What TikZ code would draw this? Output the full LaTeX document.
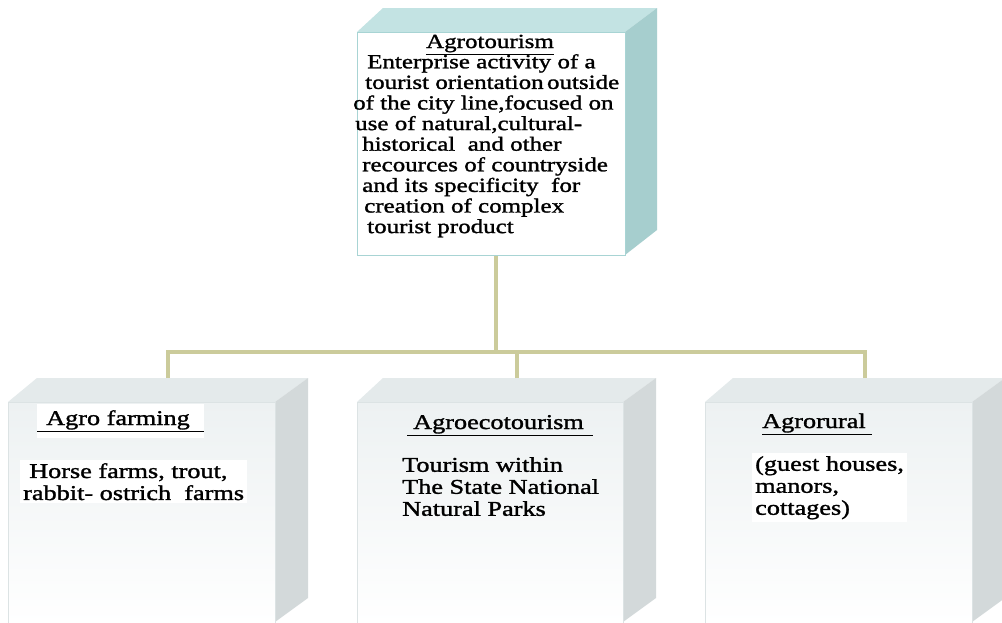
\documentclass[tikz,border=0pt]{standalone}
\usepackage{fontspec}
\setmainfont{Liberation Serif}[FakeStretch=1.25,FakeBold=1.4]
\definecolor{tealTop}{HTML}{C3E3E3}
\definecolor{tealSide}{HTML}{A6CECE}
\definecolor{tealEdge}{HTML}{A8D4D4}
\definecolor{grayTop}{HTML}{E4EAEB}
\definecolor{graySide}{HTML}{D3D9DA}
\definecolor{grayEdge}{HTML}{DCE3E4}
\definecolor{faceTop}{HTML}{EDF1F2}
\definecolor{lineC}{HTML}{CBCB9B}
\begin{document}
\begin{tikzpicture}[x=1pt,y=-1pt,
  conn/.style={draw=lineC, line width=3.6pt},
  topfront/.style={draw=tealEdge, fill=white, line width=0.8pt, anchor=north west,
    minimum width=268pt, minimum height=223pt, inner sep=0pt},
  lowfront/.style={draw=grayEdge, line width=0.8pt, top color=faceTop, bottom color=white,
    anchor=north west, minimum width=267pt, minimum height=221pt, inner sep=0pt},
  bigtxt/.style={font=\fontsize{20}{20.6}\selectfont, inner sep=0pt},
  lowtxt/.style={font=\fontsize{21}{22}\selectfont, inner sep=0pt},
  whitebg/.style={fill=white, inner sep=3pt}]
\useasboundingbox (0,0) rectangle (1002,622);
\fill[white] (0,0) rectangle (1002,622);

% ---------- top box ----------
\fill[tealTop] (357,32) -- (383,8) -- (657,8) -- (625,32) -- cycle;
\fill[tealSide] (625,32) -- (657,8) -- (657,230) -- (625,255) -- cycle;
\node[topfront] (top) at (357,32) {};
\node[bigtxt, anchor=base] (toptitle) at (490,48) {\underline{Agrotourism}};
\node[bigtxt, anchor=north west, align=left] (topbody) at (353,54) {%
\hspace*{14pt}Enterprise activity of a\\
\hspace*{12pt}tourist orientation\,outside\\
of the city line,focused on\\
\hspace*{2pt}use of natural,cultural-\\
\hspace*{9pt}historical\ \ and other\\
\hspace*{9pt}recources of countryside\\
\hspace*{9pt}and its specificity\ \ for\\
\hspace*{11pt}creation of complex\\
\hspace*{14pt}tourist product};

% ---------- bottom boxes ----------
% left
\fill[grayTop] (8,402) -- (37,378) -- (308,378) -- (275,402) -- cycle;
\fill[graySide] (275,402) -- (308,378) -- (308,598) -- (275,622) -- cycle;
\node[lowfront] (boxA) at (8,402) {};
% middle
\fill[grayTop] (357,402) -- (383,378) -- (656,378) -- (623,402) -- cycle;
\fill[graySide] (623,402) -- (656,378) -- (656,598) -- (623,622) -- cycle;
\node[lowfront, minimum width=266pt] (boxB) at (357,402) {};
% right
\fill[grayTop] (705,402) -- (733,378) -- (1005,378) -- (972,402) -- cycle;
\fill[graySide] (972,402) -- (1005,378) -- (1005,598) -- (972,622) -- cycle;
\node[lowfront] (boxC) at (705,402) {};

% titles
\node[lowtxt, anchor=base west, fill=white, inner ysep=6pt, inner xsep=0pt] (tA) at (37,425)
  {\underline{\hspace*{9pt}Agro farming\hspace*{14pt}}};
\node[lowtxt, anchor=base west] (tB) at (407,429)
  {\underline{\hspace*{6pt}Agroecotourism\hspace*{9pt}}};
\node[lowtxt, anchor=base west] (tC) at (762,428)
  {\underline{Agrorural\hspace*{6pt}}};

% bodies
\node[lowtxt, anchor=north west, align=left, whitebg] (bA) at (20,460)
  {\hspace*{6pt}Horse farms, trout,\\rabbit- ostrich\ \ farms};
\node[lowtxt, anchor=north west, align=left] (bB) at (402,457)
  {Tourism within\\The State National\\Natural Parks};
\node[lowtxt, anchor=north west, align=left, whitebg] (bC) at (752,453)
  {(guest houses,\\manors,\\cottages)};

% ---------- connectors ----------
\coordinate (hub) at (496,352);
\coordinate (inA) at (168,378);
\coordinate (inB) at (517,378);
\coordinate (inC) at (865,378);
\draw[conn] (top.south -| hub) -- (hub);
\draw[conn] (inA) |- (hub);
\draw[conn] (inC) |- (hub);
\draw[conn] (inB) -- (inB |- hub);
\end{tikzpicture}
\end{document}
